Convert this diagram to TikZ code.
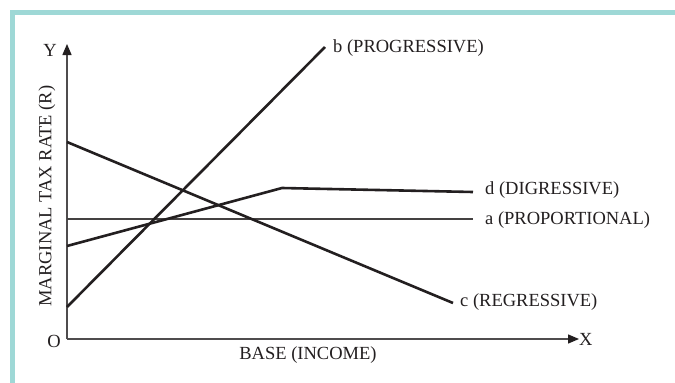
\documentclass[tikz,border=0pt]{standalone}
\usepackage{fontspec}
\setmainfont{Liberation Serif}
\usetikzlibrary{arrows.meta}
\definecolor{frameteal}{HTML}{9ED8D6}
\definecolor{ink}{HTML}{231F20}
\begin{document}
\begin{tikzpicture}[x=1pt,y=-1pt,
  lbl/.style={font=\fontsize{18.5}{20}\selectfont, text=ink, inner sep=0pt},
  curve/.style={draw=ink, line width=2.6pt},
  thinline/.style={draw=ink!85, line width=1.2pt},
  axis/.style={draw=ink!80, line width=1.3pt, -{Triangle[length=11pt,width=9pt,fill=ink,color=ink]}}]
\useasboundingbox (0,0) rectangle (675,383);
\fill[white] (0,0) rectangle (675,383);
\draw[frameteal, line width=5pt] (12.5,390) -- (12.5,12.5) -- (680,12.5);
% axes
\coordinate (O) at (67,339);
\coordinate (Ytip) at (67,44);
\coordinate (Xtip) at (579,339);
\draw[axis] (O) -- (Ytip);
\draw[axis] (O) -- (Xtip);
\node[lbl, anchor=east] (ylab) at (57,50) {Y};
\node[lbl, anchor=west] (xlab) at (579,339) {X};
\node[lbl, anchor=east] (olab) at (61,341) {O};
\node[lbl] (xaxis) at (308,355) {BASE (INCOME)};
\node[lbl, rotate=90] (yaxis) at (47,196) {MARGINAL TAX RATE (R)};
% lines
\coordinate (a0) at (67,219);
\coordinate (a1) at (473,219);
\coordinate (b0) at (67,307);
\coordinate (b1) at (325,47);
\coordinate (c0) at (67,142);
\coordinate (c1) at (453,303);
\coordinate (d0) at (67,246);
\coordinate (dk) at (282,188);
\coordinate (d1) at (473,192);
\draw[thinline] (a0) -- (a1);
\draw[curve] (b0) -- (b1);
\draw[curve] (c0) -- (c1);
\draw[curve] (d0) -- (dk) -- (d1);
\node[lbl, anchor=west] (alab) at (485,220) {a (PROPORTIONAL)};
\node[lbl, anchor=west] (blab) at (333,48) {b (PROGRESSIVE)};
\node[lbl, anchor=west] (clab) at (460,302) {c (REGRESSIVE)};
\node[lbl, anchor=west] (dlab) at (485,190) {d (DIGRESSIVE)};
\end{tikzpicture}
\end{document}
